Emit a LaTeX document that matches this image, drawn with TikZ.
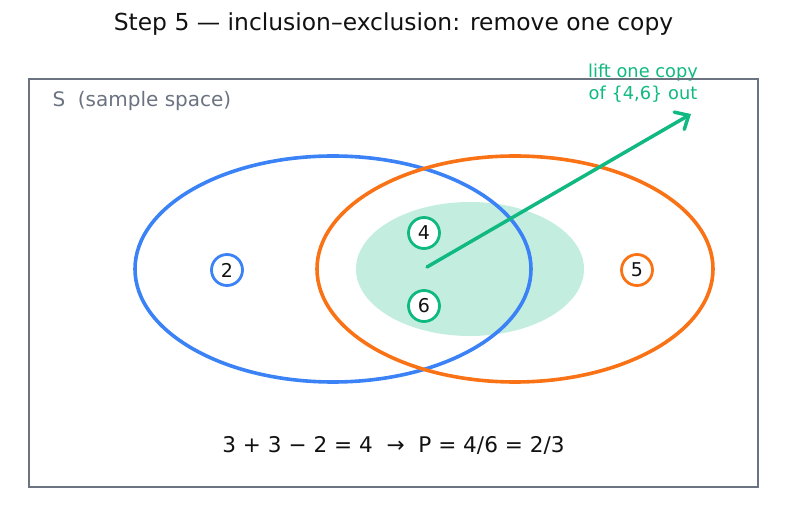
\documentclass[tikz,border=0pt]{standalone}
\usepackage{fontspec}
\setmainfont{DejaVu Sans}
\usetikzlibrary{arrows.meta}
\definecolor{cblue}{HTML}{3B82F6}
\definecolor{corange}{HTML}{F97316}
\definecolor{cgreen}{HTML}{10B981}
\definecolor{cgray}{HTML}{6B7280}
\definecolor{ctext}{HTML}{111111}
\begin{document}
\begin{tikzpicture}[x=1pt,y=-1pt,
  setline/.style={line width=3.6pt},
  elem/.style={circle,draw,line width=2.8pt,fill=white,minimum size=31pt,inner sep=0pt,font=\fontsize{19}{22}\selectfont,text=ctext},
  frame/.style={draw=cgray,line width=2.8pt}]
\useasboundingbox (0,0) rectangle (787,510);
% title
\node[font=\fontsize{23.4}{28}\selectfont,text=ctext] (title) at (393.5,24) {Step 5 — inclusion–exclusion: remove one copy};
% highlight region
\fill[cgreen,opacity=0.25] (470,269) ellipse [x radius=114,y radius=67];
% sets
\draw[setline,cblue] (333,269) ellipse [x radius=198,y radius=113];
\draw[setline,corange] (515,269) ellipse [x radius=198,y radius=113];
% label for arrow
\node[font=\fontsize{17.8}{21.5}\selectfont,text=cgreen,align=center] (lift) at (643,83) {lift one copy\\of \{4,6\} out};
% frame
\draw[frame] (29,79) rectangle (758,487);
\node[font=\fontsize{20}{24}\selectfont,text=cgray,anchor=west] (S) at (49,101) {S\ \ (sample space)};
% elements
\node[elem,draw=cblue] (e2) at (227,270) {2};
\node[elem,draw=cgreen] (e4) at (424,233) {4};
\node[elem,draw=cgreen] (e6) at (424,306) {6};
\node[elem,draw=corange] (e5) at (637,270) {5};
% arrow
\coordinate (astart) at (427,267);
\coordinate (aend) at (691,114);
\draw[cgreen,line width=3.5pt,line cap=round,-{Straight Barb[length=11pt,width=20pt,line cap=round]}] (astart) -- (aend);
% equation
\node[font=\fontsize{21.6}{26}\selectfont,text=ctext] (eq) at (393.5,445) {3 + 3 − 2 = 4 \ →\ \ P = 4/6 = 2/3};
\end{tikzpicture}
\end{document}
